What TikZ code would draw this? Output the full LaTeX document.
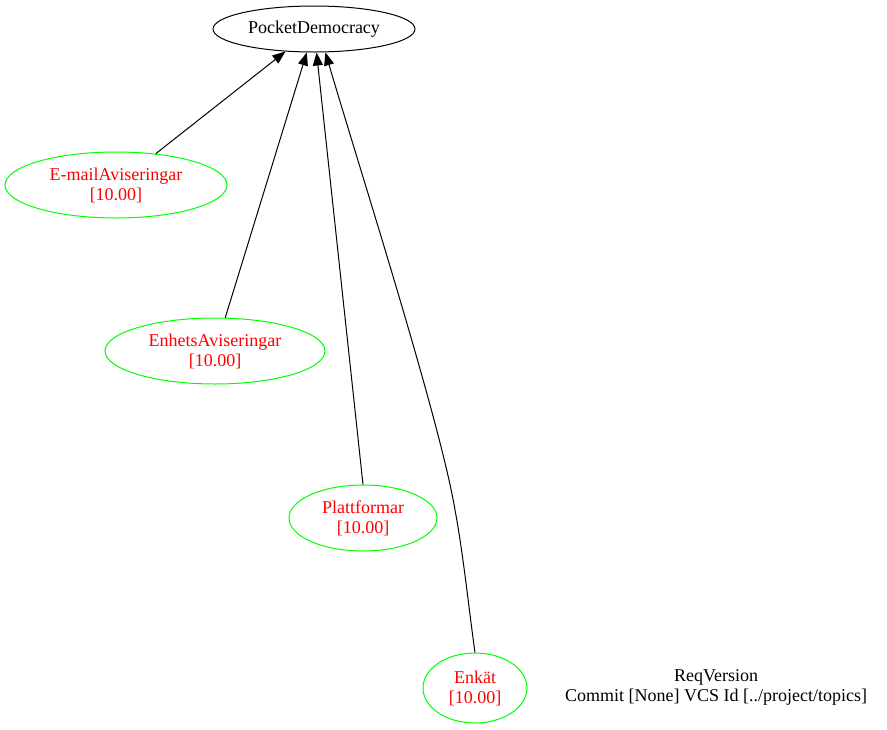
\documentclass[tikz,border=0pt]{standalone}
\usepackage{fontspec}
\setmainfont{Liberation Serif}
\usetikzlibrary{arrows.meta,shapes.geometric}
\begin{document}
\begin{tikzpicture}[x=1pt, y=-1pt, font=\fontsize{18}{20}\selectfont,
    req/.style={ellipse, draw=green, text=red, line width=1pt, inner sep=0pt, align=center, minimum height=66pt},
    edge/.style={-{Triangle[length=13pt, width=10pt]}, line width=1pt}]
                \useasboundingbox (0,0) rectangle (887,729);

                % Root
                \node[ellipse, draw, line width=1pt, inner sep=0pt, minimum width=202pt, minimum height=46pt] (pd) at (314, 29) {PocketDemocracy};

                % Requirements
                \node[req, minimum width=222pt] (mail) at (116, 185) {E-mailAviseringar\\{}[10.00]};
                \node[req, minimum width=220pt] (enh) at (215, 351) {EnhetsAviseringar\\{}[10.00]};
                \node[req, minimum width=148pt] (plat) at (363, 518) {Plattformar\\{}[10.00]};
                \node[req, minimum width=104pt, minimum height=70pt] (enk) at (475, 688) {Enkät\\{}[10.00]};

                % Version info
                \node[align=center] (ver) at (716, 687) {ReqVersion\\Commit [None] VCS Id [../project/topics]};

                % Dependencies
                \draw[edge] (mail) -- (pd);
                \draw[edge] (enh) -- (pd);
                \draw[edge] (plat.north) -- (pd);
                \draw[edge] (enk.north) .. controls (469, 610) and (463, 552) .. (455, 510)
                    .. controls (440, 420) and (360, 170) .. (pd.-64);
            \end{tikzpicture}
\end{document}
